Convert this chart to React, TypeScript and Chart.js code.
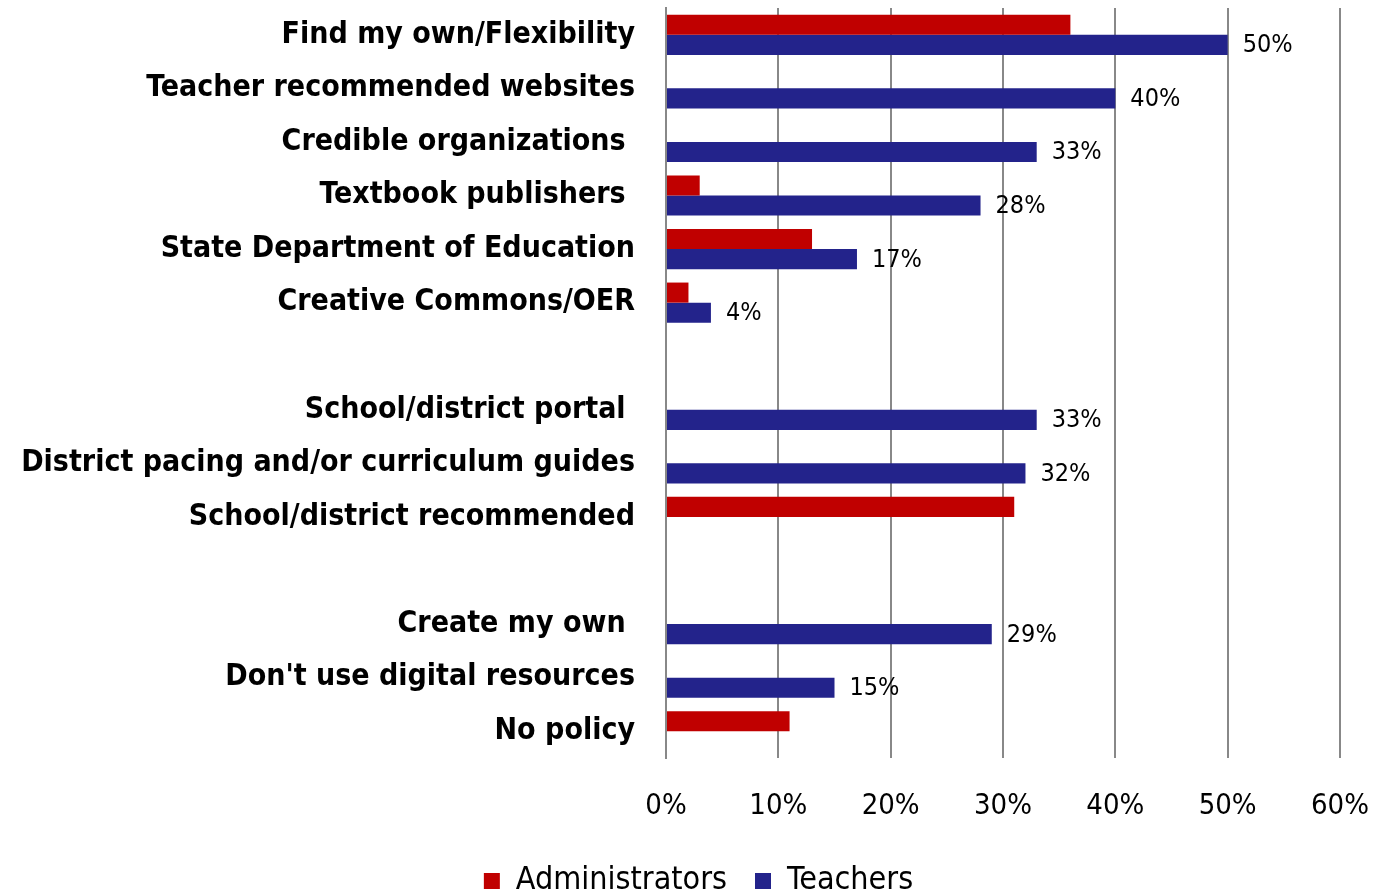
import React, { useEffect, useRef } from 'react';
import { Chart, registerables } from 'chart.js';

Chart.register(...registerables);

const FONT = "'DejaVu Sans Condensed', 'DejaVu Sans', sans-serif";

const categories = [
  'Find my own/Flexibility',
  'Teacher recommended websites',
  'Credible organizations ',
  'Textbook publishers ',
  'State Department of Education',
  'Creative Commons/OER',
  '',
  'School/district portal ',
  'District pacing and/or curriculum guides',
  'School/district recommended',
  '',
  'Create my own ',
  "Don't use digital resources",
  'No policy',
];

const administrators: (number | null)[] = [36, null, null, 3, 13, 2, null, null, null, 31, null, null, null, 11];
const teachers: (number | null)[] = [50, 40, 33, 28, 17, 4, null, 33, 32, null, null, 29, 15, null];

const seriesNames = ['Administrators', 'Teachers'];
const seriesColors = ['#C00000', '#23238B'];

const xMin = 0;
const xMax = 60;
const xStep = 10;

const valueLabels = {
  id: 'valueLabels',
  afterDatasetsDraw(chart: any) {
    const ctx = chart.ctx;
    const meta = chart.getDatasetMeta(1);
    ctx.save();
    ctx.font = `25px ${FONT}`;
    ctx.fillStyle = '#000';
    ctx.textAlign = 'left';
    ctx.textBaseline = 'middle';
    meta.data.forEach((bar: any, i: number) => {
      const v = teachers[i];
      if (v == null) return;
      ctx.fillText(v + '%', bar.x + 15, bar.y + 1);
    });
    ctx.restore();
  },
};

export default function App() {
  const canvasRef = useRef<HTMLCanvasElement | null>(null);

  useEffect(() => {
    const canvas = canvasRef.current;
    if (!canvas) return;
    const chart = new Chart(canvas, {
      type: 'bar',
      data: {
        labels: categories,
        datasets: [
          {
            label: seriesNames[0],
            data: administrators,
            backgroundColor: seriesColors[0],
            borderWidth: 0,
            categoryPercentage: 0.75,
            barPercentage: 1,
          },
          {
            label: seriesNames[1],
            data: teachers,
            backgroundColor: seriesColors[1],
            borderWidth: 0,
            categoryPercentage: 0.75,
            barPercentage: 1,
          },
        ],
      },
      options: {
        indexAxis: 'y',
        responsive: false,
        animation: false,
        events: [],
        layout: { padding: { top: 8, left: 22, right: 0, bottom: 0 } },
        scales: {
          x: {
            type: 'linear',
            min: xMin,
            max: xMax,
            ticks: {
              stepSize: xStep,
              padding: 31,
              color: '#000',
              font: { family: FONT, size: 29 },
              callback: (v: any) => v + '%',
            },
            grid: { color: '#888888', lineWidth: 2, drawTicks: false },
            border: { display: false },
            afterFit: (scale: any) => {
              scale.height = 79;
              scale.paddingLeft = 0;
              scale.paddingRight = 35;
            },
          },
          y: {
            type: 'category',
            ticks: {
              autoSkip: false,
              padding: 31,
              color: '#000',
              font: { family: FONT, size: 30, weight: 'bold' },
            },
            grid: { display: false, drawTicks: false },
            border: { display: true, color: '#888888', width: 2 },
            afterFit: (scale: any) => {
              scale.width = 644;
              scale.paddingTop = 0;
              scale.paddingBottom = 0;
            },
          },
        },
        plugins: {
          legend: {
            position: 'bottom',
            labels: {
              color: '#000',
              font: { family: FONT, size: 32 },
              boxWidth: 16,
              boxHeight: 16,
              padding: 28,
            },
          },
          tooltip: { enabled: false },
        },
      },
      plugins: [valueLabels],
    } as any);
    return () => chart.destroy();
  }, []);

  return (
    <div
      style={{
        position: 'fixed',
        left: 0,
        top: 0,
        width: 1375,
        height: 895,
        overflow: 'hidden',
        background: '#ffffff',
      }}
    >
      <canvas ref={canvasRef} width={1375} height={907} style={{ display: 'block' }} />
    </div>
  );
}
